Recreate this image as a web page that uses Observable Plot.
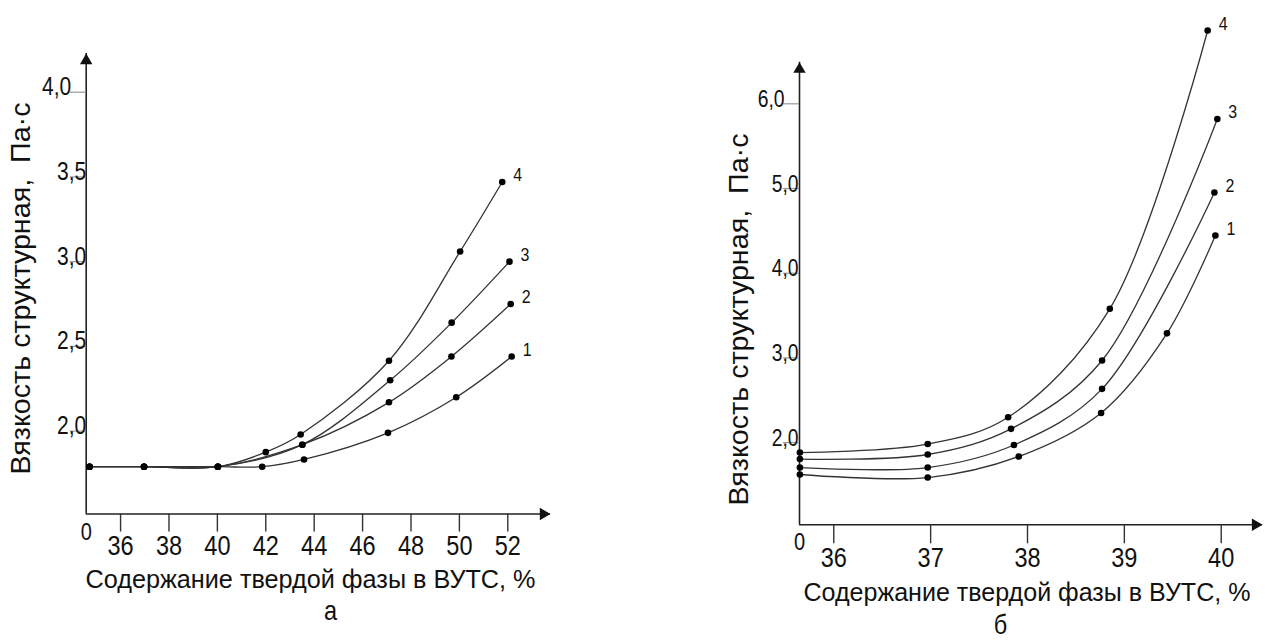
<!DOCTYPE html>
<html><head><meta charset="utf-8">
<script src="https://cdn.jsdelivr.net/npm/d3@7"></script>
<script src="https://cdn.jsdelivr.net/npm/@observablehq/plot@0.6"></script>
<style>
body{margin:0;background:#fff;}
#wrap{position:relative;width:1265px;height:643px;overflow:hidden;background:#fff;}
#a,#b{position:absolute;top:0;}
#a{left:0;} #b{left:640px;}
</style></head><body><div id="wrap"><div id="a"></div><div id="b"></div></div>
<script>
const FONT = '"Liberation Sans", Arial, sans-serif';
const seriesLabels = ["1","2","3","4"];
const yTitle = "Вязкость структурная,  Па·с";
const xTitle = "Содержание твердой фазы в ВУТС, %";
const zeroLabel = "0";

// Panel а
const aX1 = [34.72,36.97,40.02,41.85,43.58,47.05,49.87,52.16];
const aY1 = [1.79,1.79,1.79,1.79,1.833,1.99,2.20,2.44];
const aX2 = [34.72,36.97,40.02,43.51,47.09,49.67,52.12];
const aY2 = [1.79,1.79,1.79,1.92,2.17,2.44,2.75];
const aX3 = [34.72,36.97,40.02,43.51,47.14,49.68,52.07];
const aY3 = [1.79,1.79,1.79,1.92,2.30,2.64,3.00];
const aX4 = [34.72,36.97,40.02,42.0,43.44,47.09,50.03,51.77];
const aY4 = [1.79,1.79,1.79,1.876,1.98,2.415,3.06,3.47];
const aXTicks = [36,38,40,42,44,46,48,50,52];
const aXTickLabels = ["36","38","40","42","44","46","48","50","52"];
const aYTicks = [2.0,2.5,3.0,3.5,4.0];
const aYTickLabels = ["2,0","2,5","3,0","3,5","4,0"];
const aPanelLetter = "а";

// Panel б
const bX1 = [35.65,36.97,37.91,38.76,39.44,39.94];
const bY1 = [1.624,1.588,1.836,2.35,3.29,4.445];
const bX2 = [35.65,36.97,37.86,38.77,39.93];
const bY2 = [1.706,1.706,1.972,2.635,4.953];
const bX3 = [35.65,36.97,37.83,38.77,39.96];
const bY3 = [1.806,1.86,2.163,2.97,5.82];
const bX4 = [35.65,36.97,37.80,38.85,39.86];
const bY4 = [1.883,1.983,2.30,3.58,6.865];
const bXTicks = [36,37,38,39,40];
const bXTickLabels = ["36","37","38","39","40"];
const bYTicks = [2.0,3.0,4.0,5.0,6.0];
const bYTickLabels = ["2,0","3,0","4,0","5,0","6,0"];
const bPanelLetter = "б";

function rows(xs, ys, s) { return xs.map((x, i) => ({x, y: ys[i], s})); }

function panel(cfg) {
  const data = cfg.series.flatMap(([xs, ys], k) => rows(xs, ys, seriesLabels[k]));
  const ends = cfg.series.map(([xs, ys], k) => ({x: xs[xs.length-1], y: ys[ys.length-1], s: seriesLabels[k]}));
  const [x0] = cfg.xDomain, [y0] = cfg.yDomain;
  const xLab = new Map(cfg.xTicks.map((t, i) => [t, cfg.xTickLabels[i]]));
  const yIdx = cfg.yTicks.map((t, i) => i);
  const top = yIdx.length - 1;
  return Plot.plot({
    width: cfg.width, height: cfg.height,
    marginLeft: cfg.mL, marginRight: cfg.mR, marginTop: cfg.mT, marginBottom: cfg.mB,
    x: {domain: cfg.xDomain},
    y: {domain: cfg.yDomain},
    style: {fontFamily: FONT, background: "transparent", color: "#111", overflow: "visible"},
    marks: [
      Plot.ruleY([y0], {x1: x0, x2: cfg.xTip, stroke: "#222", strokeWidth: 1.6}),
      Plot.ruleX([x0], {y1: y0, y2: cfg.yTip, stroke: "#222", strokeWidth: 1.6}),
      Plot.dot([{x: cfg.xTip, y: y0}], {x: "x", y: "y", symbol: "triangle", rotate: 90, r: 4.6, fill: "#111", stroke: "none", dx: -7}),
      Plot.dot([{x: x0, y: cfg.yTip}], {x: "x", y: "y", symbol: "triangle", r: 4.6, fill: "#111", stroke: "none", dy: 7}),
      Plot.axisX({ticks: cfg.xTicks, tickSize: cfg.xTickSize, tickPadding: 3, tickFormat: d => xLab.get(d), fontSize: cfg.xFont, stroke: "#333", strokeWidth: 1.4, label: null}),
      Plot.axisY({ticks: cfg.yTicks, tickSize: 16, tickFormat: () => "", stroke: "#999", strokeWidth: 1.2, label: null}),
      Plot.text(yIdx.filter(i => i !== top), {x: () => x0, y: i => cfg.yTicks[i], text: i => cfg.yTickLabels[i], textAnchor: "end", lineAnchor: "bottom", dy: 3, dx: cfg.yLabDx, fontSize: cfg.yFont}),
      Plot.text([top], {x: () => x0, y: i => cfg.yTicks[i], text: i => cfg.yTickLabels[i], textAnchor: "end", lineAnchor: "bottom", dy: 3, dx: -15, fontSize: cfg.yFont}),
      Plot.text([zeroLabel], {x: () => x0, y: () => y0, text: d => d, dy: cfg.zeroDy, fontSize: cfg.xFont * 0.85}),
      Plot.line(data, {x: "x", y: "y", z: "s", curve: "catmull-rom", stroke: "#333", strokeWidth: 1.3}),
      Plot.dot(data, {x: "x", y: "y", r: 3.3, fill: "#000", stroke: "none"}),
      Plot.text(ends, {x: "x", y: "y", text: "s", dx: 11, dy: -7, fontSize: 19, textAnchor: "start"}),
      Plot.text([yTitle], {frameAnchor: "left", rotate: -90, textAnchor: "start", dx: cfg.yTitleDx, dy: cfg.yTitleDy, fontSize: cfg.yTitleFont}),
      Plot.text([xTitle], {frameAnchor: "bottom", textAnchor: "end", dx: cfg.xTitleDx, dy: cfg.xTitleDy, fontSize: cfg.titleFont}),
      Plot.text([cfg.letter], {frameAnchor: "bottom", dx: cfg.letterDx, dy: cfg.letterDy, fontSize: 28})
    ]
  });
}

// emulate the condensed typeface of the original
function condense(svg, factor, targets) {
  svg.querySelectorAll("text").forEach(t => {
    const s = t.textContent;
    if (!s || t.querySelector("tspan")) return;
    const w = t.getComputedTextLength();
    if (!w) return;
    const target = targets.has(s) ? targets.get(s) : w * factor;
    t.setAttribute("textLength", target);
    t.setAttribute("lengthAdjust", "spacingAndGlyphs");
  });
}

const A = panel({
  series: [[aX1,aY1],[aX2,aY2],[aX3,aY3],[aX4,aY4]],
  width: 640, height: 643, mL: 85.7, mR: 132.7, mT: 91.7, mB: 129.5,
  xDomain: [34.58, 52], yDomain: [1.511, 4.0], xTip: 53.76, yTip: 4.228,
  xTicks: aXTicks, xTickLabels: aXTickLabels, yTicks: aYTicks, yTickLabels: aYTickLabels,
  xTickSize: 18, xFont: 28, yFont: 25, yLabDx: 0, zeroDy: 18, titleFont: 25.5, yTitleFont: 28,
  yTitleDx: -64.7, yTitleDy: 171.4, xTitleDx: 238.5, xTitleDy: 74,
  letter: aPanelLetter, letterDx: 33.5, letterDy: 106
});
const B = panel({
  series: [[bX1,bY1],[bX2,bY2],[bX3,bY3],[bX4,bY4]],
  width: 625, height: 643, mL: 159, mR: 44.3, mT: 103.3, mB: 118.7,
  xDomain: [35.646, 40], yDomain: [1.03, 6.0], xTip: 40.426, yTip: 6.49,
  xTicks: bXTicks, xTickLabels: bXTickLabels, yTicks: bYTicks, yTickLabels: bYTickLabels,
  xTickSize: 19, xFont: 28, yFont: 23, yLabDx: -1, zeroDy: 18, titleFont: 25.5, yTitleFont: 28,
  yTitleDx: -60, yTitleDy: 191.2, xTitleDx: 240.1, xTitleDy: 76,
  letter: bPanelLetter, letterDx: -9.9, letterDy: 109
});
document.getElementById("a").appendChild(A);
document.getElementById("b").appendChild(B);
condense(A, 0.84, new Map([[xTitle, 450], [yTitle, 372]]));
condense(B, 0.84, new Map([[xTitle, 447], [yTitle, 372]]));
</script></body></html>
